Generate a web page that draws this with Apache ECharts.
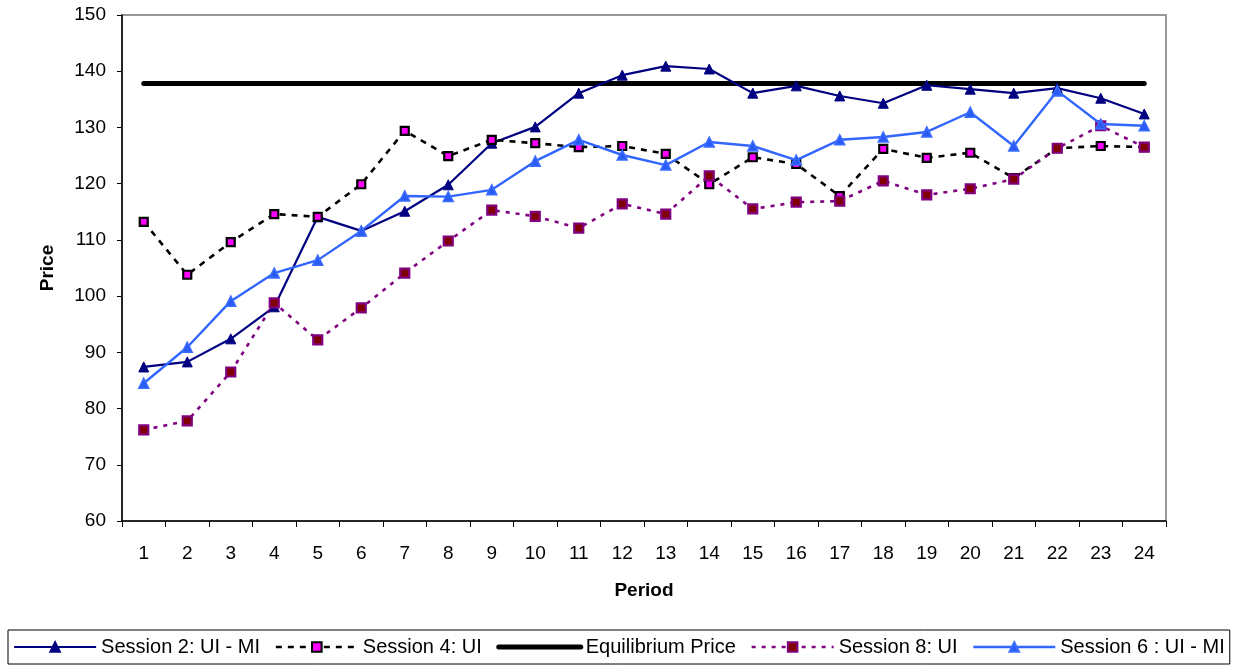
<!DOCTYPE html>
<html>
<head>
<meta charset="utf-8">
<title>Price by Period</title>
<script src="https://cdn.jsdelivr.net/npm/echarts@6/dist/echarts.min.js"></script>
<style>
  html, body { margin: 0; padding: 0; background: #fff; }
  #chart { width: 1233px; height: 666px; }
</style>
</head>
<body>
<div id="chart"></div>
<script>
// Periods on the x axis
const periods = ['1','2','3','4','5','6','7','8','9','10','11','12','13','14','15','16','17','18','19','20','21','22','23','24'];

// Average price per period for each session
const session2 = [87.4, 88.3, 92.4, 98.1, 114.1, 111.6, 115.1, 119.8, 127.2, 130.1, 136.1, 139.3,
                  140.9, 140.4, 136.1, 137.4, 135.6, 134.3, 137.5, 136.8, 136.1, 137.0, 135.2, 132.4];
const session4 = [113.2, 103.8, 109.6, 114.6, 114.1, 119.9, 129.4, 124.9, 127.8, 127.2, 126.5, 126.7,
                  125.3, 119.9, 124.7, 123.5, 117.8, 126.2, 124.6, 125.5, 121.0, 126.3, 126.7, 126.5];
const equilibrium = [137.8, 137.8, 137.8, 137.8, 137.8, 137.8, 137.8, 137.8, 137.8, 137.8, 137.8, 137.8,
                     137.8, 137.8, 137.8, 137.8, 137.8, 137.8, 137.8, 137.8, 137.8, 137.8, 137.8, 137.8];
const session8 = [76.2, 77.8, 86.5, 98.8, 92.2, 97.9, 104.1, 109.8, 115.3, 114.2, 112.1, 116.4,
                  114.6, 121.4, 115.5, 116.7, 116.9, 120.5, 118.0, 119.1, 120.8, 126.3, 130.3, 126.5];
const session6 = [84.5, 90.9, 99.1, 104.1, 106.4, 111.6, 117.8, 117.7, 118.9, 124.0, 127.8, 125.1,
                  123.3, 127.4, 126.7, 124.2, 127.8, 128.3, 129.2, 132.7, 126.7, 136.5, 130.6, 130.3];

// Y axis range
const yMin = 60, yMax = 150, yStep = 10;

const FONT = '"Liberation Sans", Arial, sans-serif';

const chart = echarts.init(document.getElementById('chart'), null, { renderer: 'canvas' });

chart.setOption({
  animation: false,
  backgroundColor: '#ffffff',
  textStyle: { fontFamily: FONT, color: '#000' },
  grid: {
    left: 122, right: 67, top: 15, bottom: 145,
    show: true, borderColor: '#999999', borderWidth: 2, backgroundColor: 'transparent'
  },
  legend: {
    left: 8, top: 630,
    padding: [7, 5],
    itemGap: 14.5,
    itemWidth: 82,
    itemHeight: 12,
    borderColor: '#000', borderWidth: 1,
    lineStyle: { width: 'inherit' },
    textStyle: { fontFamily: FONT, fontSize: 20, color: '#000' },
    data: [
      'Session 2: UI - MI',
      'Session 4: UI',
      { name: 'Equilibrium Price', itemStyle: { color: 'transparent', borderWidth: 0 } },
      'Session 8: UI',
      'Session 6 : UI - MI'
    ]
  },
  xAxis: {
    type: 'category',
    data: periods,
    boundaryGap: true,
    name: 'Period',
    nameLocation: 'middle',
    nameGap: 60,
    nameTextStyle: { fontFamily: FONT, fontSize: 19, fontWeight: 'bold', color: '#000' },
    axisLine: { lineStyle: { color: '#000', width: 1.5 } },
    axisTick: { show: true, length: 6, lineStyle: { color: '#000', width: 1 } },
    axisLabel: { fontFamily: FONT, fontSize: 19, color: '#000', margin: 23, interval: 0 },
    splitLine: { show: false }
  },
  yAxis: {
    type: 'value',
    min: yMin, max: yMax, interval: yStep,
    name: 'Price',
    nameLocation: 'middle',
    nameGap: 65,
    nameRotate: 90,
    nameTextStyle: { fontFamily: FONT, fontSize: 19, fontWeight: 'bold', color: '#000' },
    axisLine: { show: true, lineStyle: { color: '#000', width: 1.5 } },
    axisTick: { show: true, length: 5, lineStyle: { color: '#000', width: 1 } },
    axisLabel: { fontFamily: FONT, fontSize: 19, color: '#000', margin: 16 },
    splitLine: { show: false }
  },
  series: [
    {
      name: 'Session 2: UI - MI',
      type: 'line',
      data: session2,
      z: 3,
      symbol: 'triangle',
      symbolSize: 10,
      lineStyle: { color: '#000080', width: 2.2 },
      itemStyle: { color: '#000080', borderColor: '#000080', borderWidth: 1 }
    },
    {
      name: 'Session 4: UI',
      type: 'line',
      data: session4,
      z: 3,
      symbol: 'rect',
      symbolSize: 8,
      lineStyle: { color: '#000000', width: 2.6, type: [6, 6] },
      itemStyle: { color: '#ff00ff', borderColor: '#000000', borderWidth: 2.2 }
    },
    {
      name: 'Equilibrium Price',
      type: 'line',
      data: equilibrium,
      z: 2,
      symbol: 'none',
      lineStyle: { color: '#000000', width: 5, cap: 'round' },
      itemStyle: { color: '#000000' }
    },
    {
      name: 'Session 8: UI',
      type: 'line',
      data: session8,
      z: 3,
      symbol: 'rect',
      symbolSize: 9,
      lineStyle: { color: '#800080', width: 2.6, type: [4, 6] },
      itemStyle: { color: '#800000', borderColor: '#800080', borderWidth: 2.2 }
    },
    {
      name: 'Session 6 : UI - MI',
      type: 'line',
      data: session6,
      z: 4,
      symbol: 'triangle',
      symbolSize: 10,
      lineStyle: { color: '#3366ff', width: 2.4 },
      itemStyle: { color: '#2a5cf5', borderColor: '#3a6dff', borderWidth: 1.5 }
    }
  ]
});
</script>
</body>
</html>
